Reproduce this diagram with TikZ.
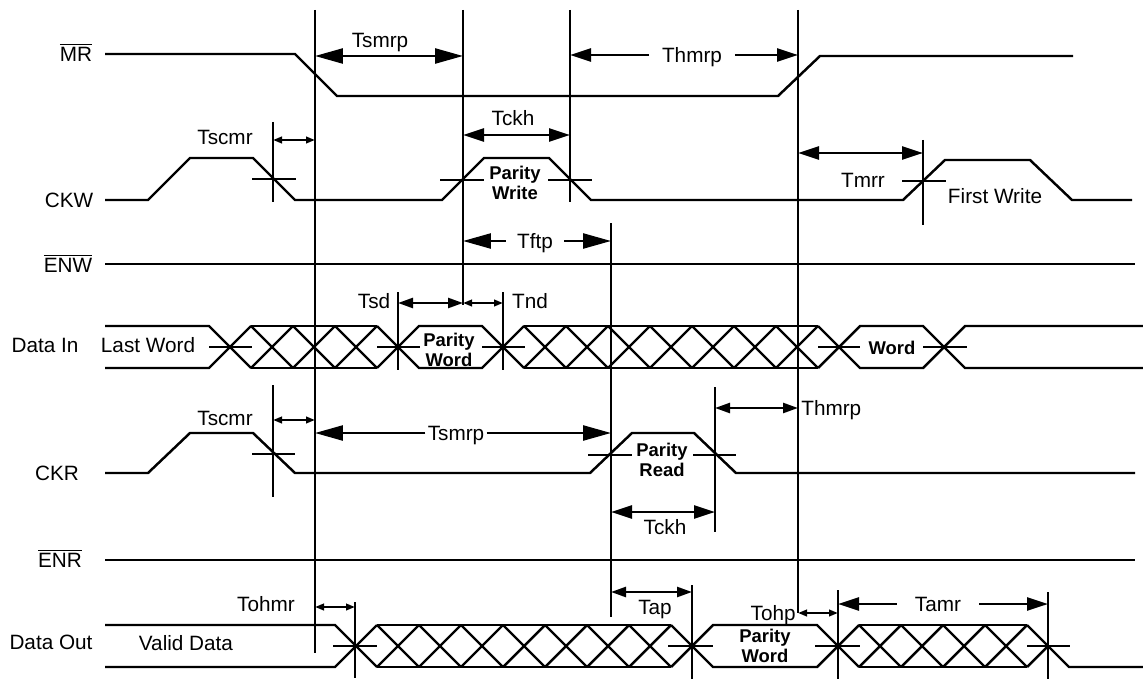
\documentclass[tikz,border=0pt]{standalone}
\usepackage{fontspec}
\setmainfont{Liberation Sans}
\usetikzlibrary{arrows.meta}

\tikzset{Tbig/.tip={Triangle[length=0.56cm,width=0.3cm]},
  Tmid/.tip={Triangle[length=0.42cm,width=0.26cm]},
  Tlow/.tip={Triangle[length=0.3cm,width=0.2cm]},
  Tsml/.tip={Triangle[length=0.18cm,width=0.13cm]}}

\newcommand{\hatchbus}[4]{%
  \draw[wave] (#1,#3) -- ++(42*#2,0) (#1,#4) -- ++(42*#2,0);
  \foreach \k [evaluate=\k as \xa using #1+42*(\k-1)] in {1,...,#2}
    \draw[wave] (\xa,#3) -- ++(42,#4-#3) (\xa,#4) -- ++(42,#3-#4);}

\begin{document}
\begin{tikzpicture}[x=0.02cm, y=-0.02cm,
  wave/.style={line width=1.4pt},
  lbl/.style={font=\fontsize{11.8}{13}\selectfont, inner sep=0pt, text height=8.4pt, text depth=0pt},
  bus/.style={font=\fontsize{10.5}{11.3}\selectfont\bfseries, inner sep=0pt, align=center}]

\useasboundingbox (0,0) rectangle (1143,679);

\node[lbl] (mr) at (76,54) {$\overline{\hbox{MR}}$};
\node[lbl] (ckw) at (69,200) {CKW};
\node[lbl] (enw) at (68,265) {$\overline{\hbox{ENW}}$};
\node[lbl] (din) at (45,345) {Data In};
\node[lbl] (ckr) at (57,473) {CKR};
\node[lbl] (enr) at (60,560) {$\overline{\hbox{ENR}}$};
\node[lbl] (dout) at (51,642) {Data Out};

\draw[wave] (315,10) -- (315,653);
\draw[wave] (463,10) -- (463,305);
\draw[wave] (570,10) -- (570,202);
\draw[wave] (798,10) -- (798,613);
\draw[wave] (611,223) -- (611,617);

\draw[wave] (105,54) -- (295,54) -- (337,96) -- (778,96) -- (820,56) -- (1073,56);

\draw[wave] (105,200) -- (148,200) -- (190,158) -- (253,158) -- (295,200) -- (442,200) -- (484,158)
  -- (549,158) -- (591,200) -- (903,200) -- (945,160) -- (1030,160) -- (1072,200) -- (1132,200);
\draw[wave] (273,122) -- (273,202) (252,179) -- (296,179);
\draw[wave] (440,180) -- (484,180) (548,180) -- (592,180);
\draw[wave] (923,140) -- (923,225) (902,181) -- (946,181);

\draw[wave] (105,264) -- (1135,264);

\draw[wave] (105,326) -- (209,326) -- (251,368) (105,368) -- (209,368) -- (251,326);
\hatchbus{251}{3}{326}{368}
\draw[wave] (377,326) -- (419,368) -- (482,368) -- (524,326) (377,368) -- (419,326) -- (482,326) -- (524,368);
\hatchbus{524}{7}{326}{368}
\draw[wave] (818,326) -- (860,368) -- (923,368) -- (965,326) -- (1143,326)
  (818,368) -- (860,326) -- (923,326) -- (965,368) -- (1143,368);
\draw[wave] (209,347) -- (252,347) (377,347) -- (420,347) (482,347) -- (525,347)
  (818,347) -- (860,347) (923,347) -- (967,347);
\draw[wave] (398,292) -- (398,370) (503,292) -- (503,370);

\draw[wave] (105,473) -- (148,473) -- (190,433) -- (253,433) -- (295,473) -- (590,473) -- (632,433)
  -- (694,433) -- (736,473) -- (1135,473);
\draw[wave] (273,385) -- (273,497) (252,454) -- (295,454);
\draw[wave] (588,455) -- (632,455);
\draw[wave] (715,387) -- (715,532) (693,455) -- (736,455);

\draw[wave] (105,560) -- (1135,560);

\draw[wave] (105,625) -- (335,625) -- (377,667) (105,667) -- (335,667) -- (377,625);
\hatchbus{377}{7}{625}{667}
\draw[wave] (671,625) -- (713,667) -- (817,667) -- (859,625) (671,667) -- (713,625) -- (817,625) -- (859,667);
\hatchbus{859}{4}{625}{667}
\draw[wave] (1027,625) -- (1069,667) -- (1143,667) (1027,667) -- (1048,646);
\draw[wave] (333,646) -- (377,646) (668,646) -- (713,646) (815,646) -- (860,646) (1027,646) -- (1070,646);
\draw[wave] (355,602) -- (355,678) (692,585) -- (692,679) (838,590) -- (838,679) (1048,592) -- (1048,679);

\node[lbl] (tsmrpA) at (380,40) {Tsmrp};
\draw[wave, Tbig-Tbig] (315,56) -- (463,56);
\node[lbl, inner xsep=0.25cm] (thmrpA) at (692,55) {Thmrp};
\draw[wave, -Tmid] (thmrpA.west) -- (570,55);
\draw[wave, -Tmid] (thmrpA.east) -- (798,55);
\node[lbl] (tscmrA) at (225,137) {Tscmr};
\draw[wave, Tsml-Tsml] (273,140) -- (315,140);
\node[lbl] (tckhA) at (513,118) {Tckh};
\draw[wave, Tmid-Tmid] (463,135) -- (570,135);
\node[bus] (pwrite) at (515,183) {Parity\\Write};
\draw[wave, Tmid-Tmid] (798,153) -- (923,153);
\node[lbl] (tmrr) at (863,180) {Tmrr};
\node[lbl] (fwrite) at (995,196) {First Write};

\node[lbl, inner xsep=0.22cm] (tftp) at (535,241) {Tftp};
\draw[wave, -Tbig] (tftp.west) -- (463,241);
\draw[wave, -Tbig] (tftp.east) -- (611,241);
\node[lbl] (tsd) at (374,301) {Tsd};
\draw[wave, Tlow-Tlow] (398,303) -- (463,303);
\node[lbl] (tnd) at (530,301) {Tnd};
\draw[wave, Tsml-Tsml] (463,303) -- (503,303);
\node[lbl] (lword) at (148,345) {Last Word};
\node[bus] (pwordA) at (449,350) {Parity\\Word};
\node[bus] (word) at (892,348) {Word};

\node[lbl] (tscmrB) at (225,418) {Tscmr};
\draw[wave, Tsml-Tsml] (273,420) -- (315,420);
\node[lbl, inner xsep=0.04cm] (tsmrpB) at (456,433) {Tsmrp};
\draw[wave, -Tbig] (tsmrpB.west) -- (315,433);
\draw[wave, -Tbig] (tsmrpB.east) -- (611,433);
\draw[wave, Tlow-Tlow] (715,408) -- (798,408);
\node[lbl, anchor=west] (thmrpB) at (801,408) {Thmrp};
\node[bus] (pread) at (662,460) {Parity\\Read};
\draw[wave, Tmid-Tmid] (611,512) -- (715,512);
\node[lbl] (tckhB) at (665,527) {Tckh};

\node[lbl] (tohmr) at (266,604) {Tohmr};
\draw[wave, Tsml-Tsml] (315,607) -- (355,607);
\draw[wave, Tlow-Tlow] (611,592) -- (692,592);
\node[lbl] (tap) at (655,607) {Tap};
\node[lbl, anchor=east] (tohp) at (796,613) {Tohp};
\draw[wave, Tsml-Tsml] (798,613) -- (838,613);
\node[lbl, inner xsep=0.36cm] (tamr) at (938,604) {Tamr};
\draw[wave, -Tmid] (tamr.west) -- (838,604);
\draw[wave, -Tmid] (tamr.east) -- (1048,604);
\node[lbl] (vdata) at (186,643) {Valid Data};
\node[bus] (pwordB) at (765,646) {Parity\\Word};

\end{tikzpicture}
\end{document}
